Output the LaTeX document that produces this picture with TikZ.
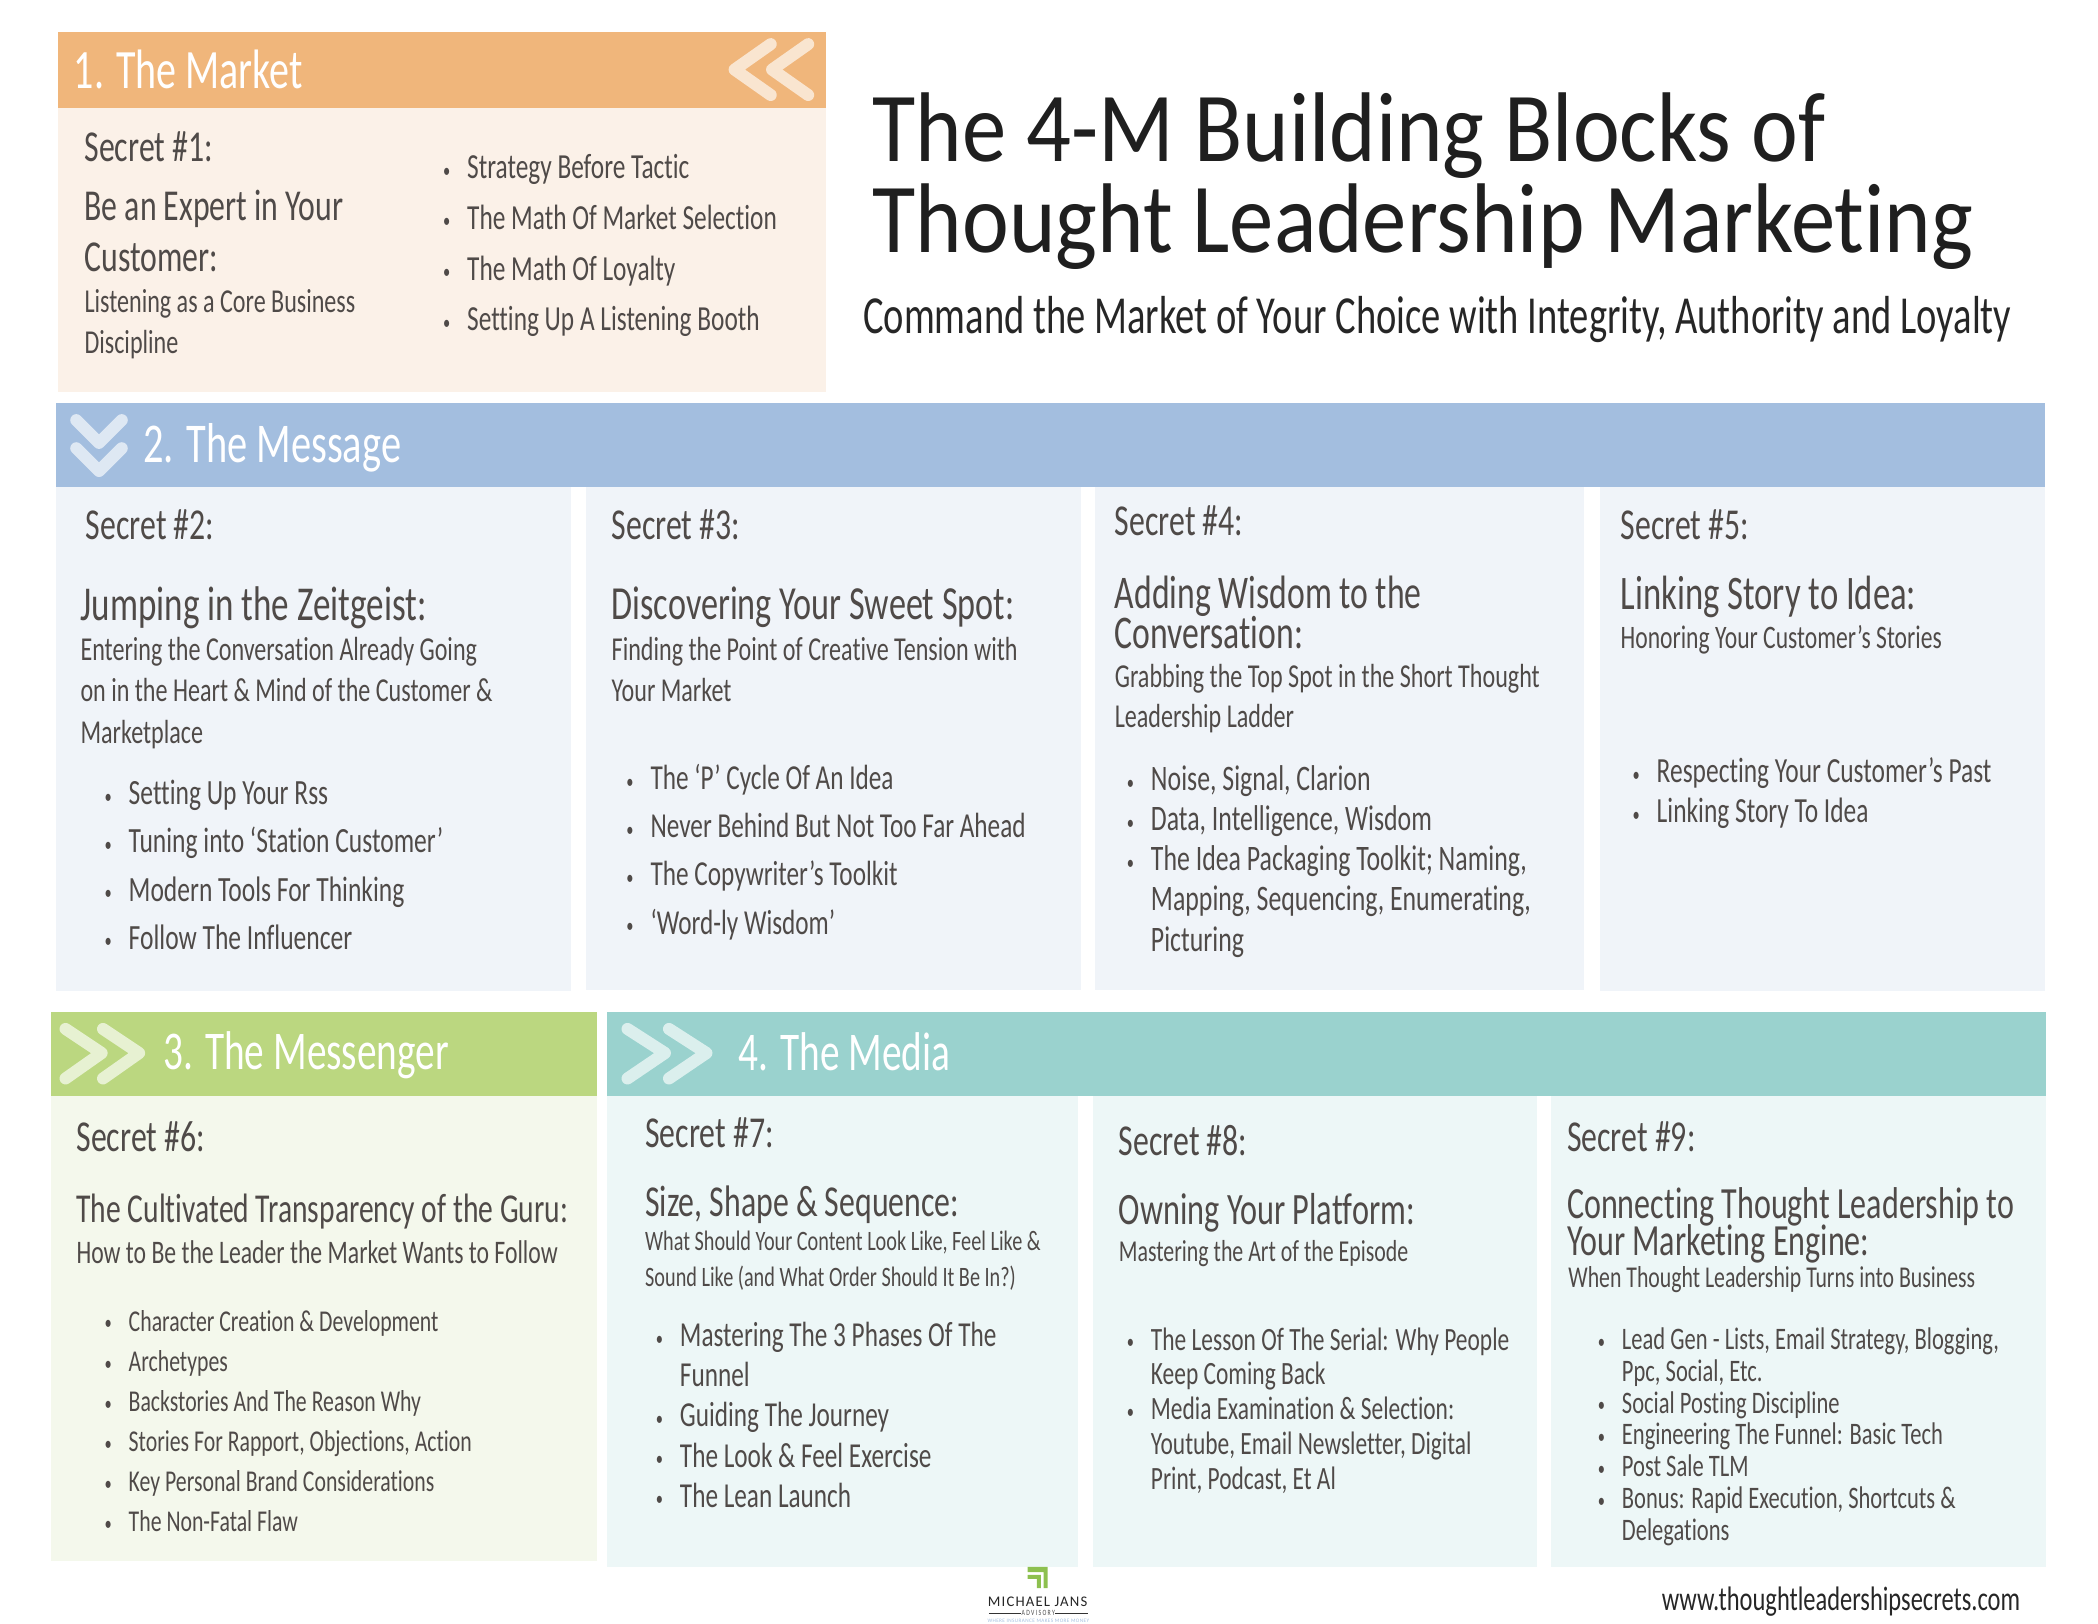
\documentclass[tikz,border=0pt]{standalone}
\usepackage{fontspec}
\setmainfont[FakeStretch=0.72,Ligatures=NoCommon]{Carlito}
\newfontfamily\titlefont[FakeStretch=0.895,Ligatures=NoCommon]{Carlito}
\newfontfamily\logofont[LetterSpace=8]{Carlito}
\usetikzlibrary{positioning}
\definecolor{txtgray}{HTML}{4F4A48}
\definecolor{orangehead}{HTML}{F0B67B}
\definecolor{orangebody}{HTML}{FBF1E8}
\definecolor{bluehead}{HTML}{A3BEDF}
\definecolor{bluebody}{HTML}{F0F4F9}
\definecolor{greenhead}{HTML}{BBD780}
\definecolor{greenbody}{HTML}{F4F8EC}
\definecolor{tealhead}{HTML}{9AD2CE}
\definecolor{tealbody}{HTML}{EDF7F7}
\definecolor{logogreen}{HTML}{8DC04F}
\newcommand{\itm}[1]{\makebox[18pt][l]{\raisebox{1pt}{\fontsize{15}{15}\selectfont\textbullet}}#1}
\newcommand{\cnt}[1]{\hspace*{18pt}#1}
\newcommand{\tightlines}{\lineskiplimit=-100pt\relax}
\tikzset{
  head/.style={anchor=west, inner sep=0pt, text=white, font=\fontsize{#1}{44}\selectfont},
  chev/.style={draw=white, opacity=0.65, line width=9pt, line cap=round, line join=round},
  txt/.style={anchor=north west, inner sep=0pt, align=left, text=txtgray},
  secret/.style={txt, font=\fontsize{33}{36}\selectfont},
  block/.style n args={2}{txt, font=\fontsize{#1}{#2}\selectfont\tightlines},
}
\begin{document}
\begin{tikzpicture}[x=1pt,y=-1pt]
\useasboundingbox (0,0) rectangle (1568,1213.7);
% bands and panels
\fill[orangehead] (43,24) rectangle (617,81);
\fill[orangebody] (43,81) rectangle (617,293);
\fill[bluehead] (42,301) rectangle (1528,364);
\fill[bluebody] (42,364) rectangle (427,741);
\fill[bluebody] (438,364) rectangle (808,740);
\fill[bluebody] (818,364) rectangle (1184,740);
\fill[bluebody] (1196,364) rectangle (1528,741);
\fill[greenhead] (38,756) rectangle (446,819);
\fill[greenbody] (38,819) rectangle (446,1167);
\fill[tealhead] (454,756) rectangle (1529,819);
\fill[tealbody] (454,819) rectangle (806,1171);
\fill[tealbody] (817,819) rectangle (1149,1171);
\fill[tealbody] (1159,819) rectangle (1529,1171);
% chevrons
\foreach \x in {0,28} {
  \draw[chev] (576+\x,33) -- (549+\x,52) -- (576+\x,71);
}
\foreach \y in {0,21} {
  \draw[chev] (57,314+\y) -- (74,331+\y) -- (91,314+\y);
}
\foreach \x in {0,28} {
  \draw[chev] (49+\x,769) -- (76+\x,787) -- (49+\x,806);
}
\foreach \x in {0,31} {
  \draw[chev] (469+\x,769) -- (497+\x,787) -- (469+\x,806);
}
% headers
\node[head=41.5] (market) at (55,52) {1. The Market};
\node[head=42] (message) at (107,335) {2. The Message};
\node[head=40.8] (messenger) at (122,789) {3. The Messenger};
\node[head=40.8] (media) at (552,786) {4. The Media};
% title
\node[anchor=north west, inner sep=0pt, align=left, text=black!88, font=\titlefont\fontsize{74}{68}\selectfont] (title) at (652,69) {The 4-M Building Blocks of\\Thought Leadership Marketing};
\node[anchor=north west, inner sep=0pt, text=black!85, font=\fontsize{40}{42}\selectfont] (subtitle) at (645,221) {Command the Market of Your Choice with Integrity, Authority and Loyalty};
% the market
\node[secret] (s1) at (63,98) {Secret \#1:};
\node[block={33}{38}] (h1) at (63,142) {Be an Expert in Your\\Customer:};
\node[block={25}{31}] (d1) at (63,216) {Listening as a Core Business\\Discipline};
\node[block={26.3}{38}] (l1) at (331,115) {\itm{Strategy Before Tactic}\\\itm{The Math Of Market Selection}\\\itm{The Math Of Loyalty}\\\itm{Setting Up A Listening Booth}};
% the message
\node[secret] (s2) at (64,381) {Secret \#2:};
\node[block={36.4}{30}] (h2) at (60,438) {Jumping in the Zeitgeist:};
\node[block={25}{31}] (d2) at (60,476) {Entering the Conversation Already Going\\on in the Heart \& Mind of the Customer \&\\Marketplace};
\node[block={26.5}{36}] (l2) at (78,583) {\itm{Setting Up Your Rss}\\\itm{Tuning into ‘Station Customer’}\\\itm{Modern Tools For Thinking}\\\itm{Follow The Influencer}};
\node[secret] (s3) at (457,381) {Secret \#3:};
\node[block={35.5}{30}] (h3) at (457,438) {Discovering Your Sweet Spot:};
\node[block={25}{31}] (d3) at (457,476) {Finding the Point of Creative Tension with\\Your Market};
\node[block={26.2}{36}] (l3) at (468,571) {\itm{The ‘P’ Cycle Of An Idea}\\\itm{Never Behind But Not Too Far Ahead}\\\itm{The Copywriter’s Toolkit}\\\itm{‘Word-ly Wisdom’}};
\node[secret] (s4) at (833,378) {Secret \#4:};
\node[block={35}{30}] (h4) at (833,430) {Adding Wisdom to the\\Conversation:};
\node[block={25}{30}] (d4) at (833,496) {Grabbing the Top Spot in the Short Thought\\Leadership Ladder};
\node[block={26.8}{30}] (l4) at (842,572) {\itm{Noise, Signal, Clarion}\\\itm{Data, Intelligence, Wisdom}\\\itm{The Idea Packaging Toolkit; Naming,}\\\cnt{Mapping, Sequencing, Enumerating,}\\\cnt{Picturing}};
\node[secret] (s5) at (1211,381) {Secret \#5:};
\node[block={36}{30}] (h5) at (1211,430) {Linking Story to Idea:};
\node[block={24.5}{30}] (d5) at (1211,467) {Honoring Your Customer’s Stories};
\node[block={26.4}{30}] (l5) at (1220,566) {\itm{Respecting Your Customer’s Past}\\\itm{Linking Story To Idea}};
% the messenger
\node[secret] (s6) at (57,838) {Secret \#6:};
\node[block={30.7}{30}] (h6) at (57,892) {The Cultivated Transparency of the Guru:};
\node[block={24.6}{30}] (d6) at (57,927) {How to Be the Leader the Market Wants to Follow};
\node[block={22.6}{30}] (l6) at (78,979) {\itm{Character Creation \& Development}\\\itm{Archetypes}\\\itm{Backstories And The Reason Why}\\\itm{Stories For Rapport, Objections, Action}\\\itm{Key Personal Brand Considerations}\\\itm{The Non-Fatal Flaw}};
% the media
\node[secret] (s7) at (482,835) {Secret \#7:};
\node[block={33}{30}] (h7) at (482,886) {Size, Shape \& Sequence:};
\node[block={21}{27}] (d7) at (482,920) {What Should Your Content Look Like, Feel Like \&\\Sound Like (and What Order Should It Be In?)};
\node[block={26.2}{30}] (l7) at (490,988) {\itm{Mastering The 3 Phases Of The}\\\cnt{Funnel}\\\itm{Guiding The Journey}\\\itm{The Look \& Feel Exercise}\\\itm{The Lean Launch}};
\node[secret] (s8) at (836,841) {Secret \#8:};
\node[block={33.5}{30}] (h8) at (836,892) {Owning Your Platform:};
\node[block={22.7}{29}] (d8) at (836,927) {Mastering the Art of the Episode};
\node[block={24.3}{26}] (l8) at (842,992) {\itm{The Lesson Of The Serial: Why People}\\\cnt{Keep Coming Back}\\\itm{Media Examination \& Selection:}\\\cnt{Youtube, Email Newsletter, Digital}\\\cnt{Print, Podcast, Et Al}};
\node[secret] (s9) at (1171,838) {Secret \#9:};
\node[block={33.3}{28}] (h9) at (1171,887) {Connecting Thought Leadership to\\Your Marketing Engine:};
\node[block={22.6}{29}] (d9) at (1172,946) {When Thought Leadership Turns into Business};
\node[block={23.4}{23.8}] (l9) at (1194,992) {\itm{Lead Gen - Lists, Email Strategy, Blogging,}\\\cnt{Ppc, Social, Etc.}\\\itm{Social Posting Discipline}\\\itm{Engineering The Funnel: Basic Tech}\\\itm{Post Sale TLM}\\\itm{Bonus: Rapid Execution, Shortcuts \&}\\\cnt{Delegations}};
% footer
\fill[logogreen] (768,1171) -- (783,1171) -- (783,1187) -- (780,1187) -- (780,1175) -- (768,1175) -- cycle;
\fill[logogreen] (768,1177) -- (778,1177) -- (778,1187) -- (775,1187) -- (775,1180) -- (768,1180) -- cycle;
\node[inner sep=0pt, text=black!85, font=\logofont\fontsize{11}{11}\selectfont] (logoname) at (775.5,1197) {MICHAEL JANS};
\node[inner sep=0pt, text=black!70, font=\fontsize{6}{6}\selectfont] (logosub) at (776,1205.5) {A D V I S O R Y};
\draw[black!80] (739,1205.5) -- (logosub.west);
\draw[black!80] (logosub.east) -- (813,1205.5);
\node[inner sep=0pt, text=bluehead, font=\logofont\fontsize{3.9}{4}\selectfont] (logotag) at (776,1211.5) {WHERE INSURANCE MAKES MORE MONEY};
\node[anchor=east, inner sep=0pt, text=black!85, font=\fontsize{25.4}{28}\selectfont] (site) at (1510,1197) {www.thoughtleadershipsecrets.com};
\end{tikzpicture}
\end{document}
